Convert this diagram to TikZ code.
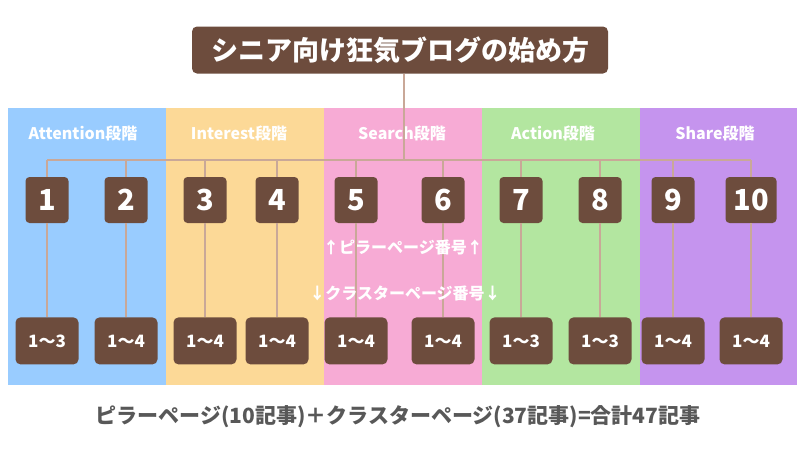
\documentclass[tikz,border=0pt]{standalone}
\usepackage{fontspec}
\setmainfont{Noto Sans CJK JP}
\usetikzlibrary{positioning}

\definecolor{bandblue}{HTML}{99CCFF}
\definecolor{bandorange}{HTML}{FCD997}
\definecolor{bandpink}{HTML}{F7ABD5}
\definecolor{bandgreen}{HTML}{B3E6A0}
\definecolor{bandpurple}{HTML}{C594EE}
\definecolor{boxbrown}{HTML}{6D4C3D}
\definecolor{linktan}{HTML}{C9A898}
\definecolor{sumgray}{HTML}{585858}

\begin{document}
\begin{tikzpicture}[x=1pt,y=-1pt]
\tikzstyle{heading} = [rectangle, fill=boxbrown, text=white, rounded corners=5pt,
font=\fontsize{27}{30}\selectfont\bfseries, minimum width=416pt, minimum height=47pt, inner sep=0pt]
\tikzstyle{stage} = [text=white, font=\fontsize{16}{17}\selectfont\bfseries]
\tikzstyle{pillar} = [rectangle, fill=boxbrown, text=white, rounded corners=4pt,
font=\fontsize{29}{30}\selectfont\bfseries, minimum width=43pt, minimum height=46pt, inner sep=0pt]
\tikzstyle{pillarwide} = [pillar, minimum width=51pt]
\tikzstyle{cluster} = [rectangle, fill=boxbrown, text=white, rounded corners=5pt,
font=\fontsize{17}{18}\selectfont\bfseries, minimum width=63pt, minimum height=47pt, inner sep=0pt]
\tikzstyle{note} = [text=white, font=\fontsize{16}{17}\selectfont\bfseries]
\tikzstyle{line} = [draw=linktan, line width=2.5pt]

\useasboundingbox (0,0) rectangle (800,450);
\fill[white] (0,0) rectangle (800,450);
% stage bands
\fill[bandblue] (8,108) rectangle (166,385);
\fill[bandorange] (166,108) rectangle (324,385);
\fill[bandpink] (324,108) rectangle (482,385);
\fill[bandgreen] (482,108) rectangle (640,385);
\fill[bandpurple] (640,108) rectangle (797,385);
\node [stage] (attention) at (83,133) {Attention段階};
\node [stage] (interest) at (239,133) {Interest段階};
\node [stage] (search) at (402,133) {Search段階};
\node [stage] (action) at (553,133) {Action段階};
\node [stage] (share) at (715,133) {Share段階};

\node [heading] (heading) at (400,50) {シニア向け狂気ブログの始め方};
\coordinate (bus) at (0,160);

% pillar pages
\node [pillar] (n1) at (47,200) {1};
\node [pillar] (n2) at (126,200) {2};
\node [pillar] (n3) at (205,200) {3};
\node [pillar] (n4) at (277,200) {4};
\node [pillar] (n5) at (356,200) {5};
\node [pillar] (n6) at (443,200) {6};
\node [pillar] (n7) at (521,200) {7};
\node [pillar] (n8) at (600,200) {8};
\node [pillar] (n9) at (673,200) {9};
\node [pillarwide] (n10) at (751,200) {10};

% cluster pages
\node [cluster, below=94pt of n1] (c1) {1〜3};
\node [cluster, below=94pt of n2] (c2) {1〜4};
\node [cluster, below=94pt of n3] (c3) {1〜4};
\node [cluster, below=94pt of n4] (c4) {1〜4};
\node [cluster, below=94pt of n5] (c5) {1〜4};
\node [cluster, below=94pt of n6] (c6) {1〜4};
\node [cluster, below=94pt of n7] (c7) {1〜3};
\node [cluster, below=94pt of n8] (c8) {1〜3};
\node [cluster, below=94pt of n9] (c9) {1〜4};
\node [cluster, below=94pt of n10] (c10) {1〜4};

\path[line] ([xshift=4pt]heading.south) -- ([xshift=4pt]heading.south |- bus);
\path[line] (n1 |- bus) -- (n10 |- bus);
\path[line] (n1) edge (n1 |- bus) edge (c1);
\path[line] (n2) edge (n2 |- bus) edge (c2);
\path[line] (n3) edge (n3 |- bus) edge (c3);
\path[line] (n4) edge (n4 |- bus) edge (c4);
\path[line] (n5) edge (n5 |- bus) edge (c5);
\path[line] (n6) edge (n6 |- bus) edge (c6);
\path[line] (n7) edge (n7 |- bus) edge (c7);
\path[line] (n8) edge (n8 |- bus) edge (c8);
\path[line] (n9) edge (n9 |- bus) edge (c9);
\path[line] (n10) edge (n10 |- bus) edge (c10);

\node [note] (pillarnote) at (403,247) {↑ピラーページ番号↑};
\node [note] (clusternote) at (405,293) {↓クラスターページ番号↓};

\node [text=sumgray, font=\fontsize{21}{22}\selectfont\bfseries] (total) at (398,417)
{ピラーページ(10記事)＋クラスターページ(37記事)=合計47記事};
\end{tikzpicture}
\end{document}
